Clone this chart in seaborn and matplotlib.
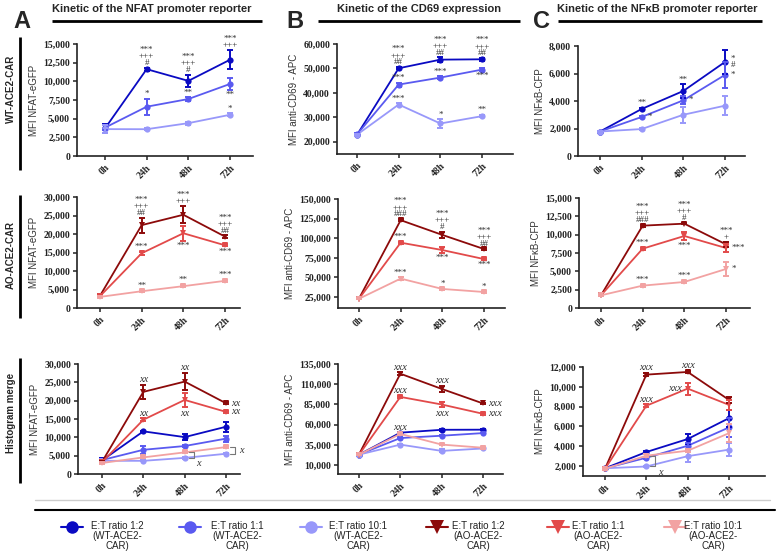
import matplotlib
matplotlib.use("Agg")
import matplotlib.pyplot as plt
import matplotlib.ticker as mticker
import pandas as pd
import seaborn as sns

times = ["0h", "24h", "48h", "72h"]
ratios = ["1:2", "1:1", "10:1"]

# mean MFI per E:T ratio (rows: 1:2, 1:1, 10:1) and SEM
nfat_wt = [[3700, 11630, 10060, 12890], [3800, 6600, 7630, 9650], [3600, 3590, 4400, 5520]]
nfat_wt_err = [[600, 200, 800, 1300], [300, 1100, 250, 800], [500, 150, 200, 200]]
cd69_wt = [[22800, 50070, 53600, 53740], [23000, 43400, 46260, 49520], [22900, 35240, 27480, 30480]]
cd69_wt_err = [[400, 500, 1000, 500], [400, 800, 500, 500], [400, 500, 1800, 500]]
nfkb_wt = [[1780, 3420, 4730, 6840], [1780, 2840, 4050, 5900], [1780, 1960, 3000, 3660]]
nfkb_wt_err = [[60, 100, 500, 850], [60, 100, 300, 950], [60, 60, 600, 680]]

nfat_ao = [[3300, 22400, 25200, 19300], [3200, 14800, 20200, 16950], [3000, 4530, 5900, 7340]]
nfat_ao_err = [[200, 2000, 2300, 300], [200, 400, 2000, 300], [200, 300, 300, 300]]
cd69_ao = [[23000, 123000, 104200, 86200], [22800, 94300, 84900, 73400], [22800, 48500, 35300, 31400]]
cd69_ao_err = [[800, 1500, 4000, 1000], [800, 1200, 3500, 1000], [800, 1500, 1000, 1000]]
nfkb_ao = [[1730, 11230, 11500, 8680], [1730, 8090, 9820, 8180], [1730, 3050, 3550, 5320]]
nfkb_ao_err = [[80, 150, 100, 300], [80, 150, 600, 500], [80, 150, 150, 900]]

# significance labels: (series, time index, text, placement)
marks_nfat_wt = [(0, 1, "***\n+++\n#", "above"), (1, 1, "*", "above"), (0, 2, "***\n+++\n#", "above"),
                 (1, 2, "**", "above"), (0, 3, "***\n+++", "above"), (1, 3, "**", "below"), (2, 3, "*", "above")]
marks_cd69_wt = [(0, 1, "***\n+++\n##", "above"), (1, 1, "***", "above"), (2, 1, "***", "above"),
                 (0, 2, "***\n+++\n##", "above"), (1, 2, "***", "above"), (2, 2, "*", "above"),
                 (0, 3, "***\n+++\n##", "above"), (1, 3, "***", "below"), (2, 3, "**", "above")]
marks_nfkb_wt = [(0, 1, "**", "above"), (1, 1, "*", "right"), (0, 2, "**", "above"), (1, 2, "*", "right"),
                 (0, 3, "*\n#", "right"), (1, 3, "*", "right")]
marks_nfat_ao = [(0, 1, "***\n+++\n##", "above"), (1, 1, "***", "above"), (2, 1, "**", "above"),
                 (0, 2, "***\n+++", "above"), (1, 2, "***", "below"), (2, 2, "**", "above"),
                 (0, 3, "***\n+++\n##", "above"), (1, 3, "***", "below"), (2, 3, "***", "above")]
marks_cd69_ao = [(0, 1, "***\n+++\n###", "above"), (1, 1, "***", "above"), (2, 1, "***", "above"),
                 (0, 2, "***\n+++\n#", "above"), (1, 2, "***", "below"), (2, 2, "*", "above"),
                 (0, 3, "***\n+++\n##", "above"), (1, 3, "***", "below"), (2, 3, "*", "above")]
marks_nfkb_ao = [(0, 1, "***\n+++\n###", "above"), (1, 1, "***", "above"), (2, 1, "***", "above"),
                 (0, 2, "***\n+++\n#", "above"), (1, 2, "***", "below"), (2, 2, "***", "above"),
                 (0, 3, "***\n+", "above"), (1, 3, "***", "right"), (2, 3, "*", "right")]
# merge panels: marks on AO series, brackets between AO 10:1 and WT 10:1
marks_nfat_mg = [(0, 1, "xx", "above"), (0, 2, "xx", "above"), (0, 3, "xx", "right"),
                 (1, 1, "xx", "above"), (1, 2, "xx", "below"), (1, 3, "xx", "right")]
marks_cd69_mg = [(0, 1, "xxx", "above"), (0, 2, "xxx", "above"), (0, 3, "xxx", "right"),
                 (1, 1, "xxx", "above"), (1, 2, "xxx", "below"), (1, 3, "xxx", "right"), (2, 1, "xxx", "above")]
marks_nfkb_mg = [(0, 1, "xxx", "above"), (0, 2, "xxx", "above"), (1, 1, "xxx", "above"), (1, 2, "xxx", "left")]
brackets_nfat = [(2, "below"), (3, "right")]
brackets_cd69 = []
brackets_nfkb = [(1, "below")]

wt_colors = ["#0a0ac2", "#5a5af0", "#9898fa"]
ao_colors = ["#8c0a0a", "#e24a4a", "#f2a2a2"]

sns.set_style("ticks")
plt.rcParams["font.family"] = ["Liberation Sans", "DejaVu Sans"]

W, H = 776, 559
fig = plt.figure(figsize=(W / 100, H / 100), dpi=100)

SERIF = "Liberation Serif"


def make_axes(l, r, t, b, x0, x3):
    ax = fig.add_axes([l / W, 1 - b / H, (r - l) / W, (b - t) / H])
    s = (x3 - x0) / 3
    ax.set_xlim((l - x0) / s, (r - x0) / s)
    return ax


def style_axes(ax, ylim, step, ylabel):
    lo, hi = ylim
    first = hi - step * int((hi - lo) // step)
    ticks = [first + i * step for i in range(int((hi - first) // step) + 1)]
    ax.set_ylim(lo, hi)
    ax.set_yticks(ticks)
    ax.yaxis.set_major_formatter(mticker.FuncFormatter(lambda v, p: f"{int(v):,}"))
    ax.set_xticks(range(4))
    ax.set_xticklabels(times, rotation=45, ha="right", rotation_mode="anchor")
    for lab in ax.get_xticklabels() + ax.get_yticklabels():
        lab.set_fontfamily(SERIF)
        lab.set_fontweight("bold")
        lab.set_fontsize(7)
    ax.tick_params(length=3, width=1.1, pad=2, colors="#222222")
    for side in ["top", "right"]:
        ax.spines[side].set_visible(False)
    for side in ["left", "bottom"]:
        ax.spines[side].set_linewidth(1.2)
        ax.spines[side].set_color("#222222")
    ax.set_ylabel(ylabel, fontsize=7, labelpad=3, color="#333333")
    ax.set_xlabel("")
    ax.patch.set_alpha(0)


def draw_group(ax, means, errs, colors, marker, ms):
    rows = []
    for i, r in enumerate(ratios):
        for t in range(4):
            rows.append({"pos": t, "mfi": means[i][t], "ratio": r})
    df = pd.DataFrame(rows)
    sns.lineplot(data=df, x="pos", y="mfi", hue="ratio", palette=dict(zip(ratios, colors)),
                 style="ratio", markers={r: marker for r in ratios}, dashes=False,
                 markersize=ms, markeredgewidth=0, linewidth=1.3, legend=False, ax=ax)
    for i in range(3):
        ax.errorbar(range(4), means[i], yerr=errs[i], fmt="none", ecolor=colors[i],
                    elinewidth=1.4, capsize=2.3, capthick=1.4)


def annotate(ax, means, errs, marks, font):
    for s, t, txt, where in marks:
        v, e = means[s][t], errs[s][t]
        if where == "above":
            xy, off, ha, va = (t, v + e), (0, 0.5), "center", "bottom"
        elif where == "below":
            xy, off, ha, va = (t, v - e), (0, -1), "center", "top"
        elif where == "right":
            xy, off, ha, va = (t, v), (4, 0), "left", "center"
        else:
            xy, off, ha, va = (t, v), (-4, 0), "right", "center"
        ax.annotate(txt, xy, xytext=off, textcoords="offset points", ha=ha, va=va,
                    linespacing=0.75, color="#333333", **font)


STAR = dict(fontsize=6.5, fontfamily=SERIF)
XFONT = dict(fontsize=7.5, fontfamily=SERIF, fontstyle="italic")

panels = [
    ("nfat", (77, 253, 44, 156, 105, 230), (77, 240, 197, 308, 100, 225), (78, 240, 364, 474, 102, 226),
     nfat_wt, nfat_wt_err, nfat_ao, nfat_ao_err, marks_nfat_wt, marks_nfat_ao, marks_nfat_mg, brackets_nfat,
     ((0, 15000), 2500), ((0, 30000), 5000), ((0, 30000), 5000), "MFI NFAT-eGFP"),
    ("cd69", (337, 513, 44, 154, 357, 482), (338, 505, 199, 308, 359, 484), (338, 503, 364, 474, 359, 483),
     cd69_wt, cd69_wt_err, cd69_ao, cd69_ao_err, marks_cd69_wt, marks_cd69_ao, marks_cd69_mg, brackets_cd69,
     ((15000, 60000), 10000), ((11000, 150000), 25000), ((-1100, 135000), 25000), "MFI anti-CD69 - APC"),
    ("nfkb", (578, 745, 46, 156, 600, 725), (579, 750, 198, 308, 601, 726), (583, 765, 367, 476, 605, 729),
     nfkb_wt, nfkb_wt_err, nfkb_ao, nfkb_ao_err, marks_nfkb_wt, marks_nfkb_ao, marks_nfkb_mg, brackets_nfkb,
     ((0, 8000), 2000), ((0, 15000), 2500), ((1000, 12000), 2000), "MFI NF\u03baB-CFP"),
]

for (name, r_top, r_mid, r_bot, wt, wt_e, ao, ao_e, mk_wt, mk_ao, mk_mg, brk,
     y_top, y_mid, y_bot, ylab) in panels:
    ax = make_axes(*r_top)
    draw_group(ax, wt, wt_e, wt_colors, "o", 4.5)
    style_axes(ax, *y_top, ylab)
    annotate(ax, wt, wt_e, mk_wt, STAR)

    ax = make_axes(*r_mid)
    draw_group(ax, ao, ao_e, ao_colors, "v", 5)
    style_axes(ax, *y_mid, ylab)
    annotate(ax, ao, ao_e, mk_ao, STAR)

    ax = make_axes(*r_bot)
    draw_group(ax, wt, wt_e, wt_colors, "o", 4.5)
    draw_group(ax, ao, ao_e, ao_colors, "v", 5)
    style_axes(ax, *y_bot, ylab)
    annotate(ax, ao, ao_e, mk_mg, XFONT)
    for t, where in brk:
        hi_v, lo_v = ao[2][t], wt[2][t]
        ax.plot([t + 0.1, t + 0.22, t + 0.22, t + 0.1], [hi_v, hi_v, lo_v, lo_v], color="#777777", lw=0.8)
        if where == "below":
            ax.annotate("x", (t + 0.25, lo_v), xytext=(1, -1), textcoords="offset points",
                        ha="left", va="top", color="#333333", **XFONT)
        else:
            ax.annotate("x", (t + 0.25, (hi_v + lo_v) / 2), xytext=(2, 0), textcoords="offset points",
                        ha="left", va="center", color="#333333", **XFONT)

# overlay for titles, separators and legend (pixel coordinates)
ov = fig.add_axes([0, 0, 1, 1])
ov.set_xlim(0, W)
ov.set_ylim(H, 0)
ov.axis("off")
ov.patch.set_alpha(0)

titles = ["Kinetic of the NFAT promoter reporter", "Kinetic of the CD69 expression",
          "Kinetic of the NF\u03baB promoter reporter"]
for txt, cx, (x1, x2), letter, lx in zip(titles, [152, 419, 657], [(52, 262), (318, 520), (558, 762)],
                                         ["A", "B", "C"], [22, 295, 542]):
    ov.text(cx, 9, txt, ha="center", va="center", fontsize=8, fontweight="bold")
    ov.plot([x1, x2], [21, 21], color="black", lw=2, solid_capstyle="butt")
    ov.text(lx, 21, letter, ha="center", va="center", fontsize=17, fontweight="bold")

for txt, cy, (y1, y2) in zip(["WT-ACE2-CAR", "AO-ACE2-CAR", "Histogram merge"], [89, 255, 413],
                             [(37, 170), (195, 318), (358, 483)]):
    ov.text(11, cy, txt, rotation=90, ha="center", va="center", fontsize=7, fontweight="bold")
    ov.plot([20, 20], [y1, y2], color="black", lw=2, solid_capstyle="butt")

ov.plot([35, 770], [500, 500], color="#cccccc", lw=1)
ov.plot([35, 775], [510, 510], color="black", lw=1.5)

leg_labels = [f"E:T ratio {r}\n({g}-ACE2-\nCAR)" for g in ["WT", "AO"] for r in ratios]
leg_colors = wt_colors + ao_colors
leg_markers = ["o"] * 3 + ["v"] * 3
for lab, c, m, mx, tx in zip(leg_labels, leg_colors, leg_markers, [72, 190, 311, 437, 558, 675],
                             [117, 237, 358, 478, 598, 713]):
    ov.plot([mx - 11, mx + 11], [527, 527], color=c, lw=1.5)
    ov.plot([mx], [527], marker=m, color=c, markersize=9 if m == "o" else 10, markeredgewidth=0)
    ov.text(tx, 521, lab, ha="center", va="top", multialignment="center", fontsize=7,
            linespacing=1.0, color="#222222")

fig.savefig("out.png", dpi=100)
